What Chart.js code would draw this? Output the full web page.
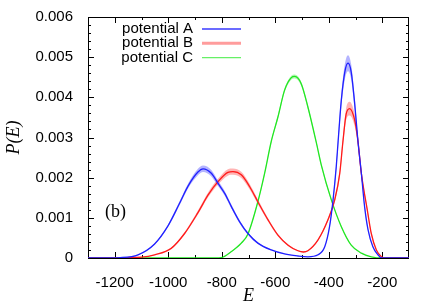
<!DOCTYPE html>
<html>
<head>
<meta charset="utf-8">
<script src="https://cdn.jsdelivr.net/npm/chart.js@4.4.1/dist/chart.umd.min.js"></script>
<style>
  html, body { margin: 0; padding: 0; background: #fff; }
  #wrap { width: 436px; height: 305px; }
</style>
</head>
<body>
<div id="wrap"><canvas id="chart"></canvas></div>
<script>
// energies (x) and P(E) (y), with band half-widths
const energyA = [-1300, -1250, -1180, -1113, -1051, -1001, -960, -926, -889, -870, -839, -814, -789, -764, -733, -702, -665, -615, -565, -515, -478, -440, -415, -397, -384, -372, -365, -353, -340, -328, -316, -303, -291, -278, -266, -253, -235, -216, -203, -150, -100];
const probA = [0, 0, 0.00001, 0.00008, 0.00035, 0.0008, 0.00133, 0.00179, 0.00214, 0.00222, 0.00211, 0.00186, 0.00161, 0.00128, 0.0009, 0.00061, 0.00037, 0.0002, 0.0001, 0.00005, 0.00003, 0.00008, 0.00028, 0.00078, 0.00144, 0.00227, 0.0029, 0.00393, 0.00463, 0.00485, 0.00463, 0.00384, 0.00292, 0.0021, 0.00128, 0.0007, 0.00028, 0.00008, 0, 0, 0];
const errA = [0, 0, 0, 0.000005, 0.00002, 0.00003, 0.00005, 0.00006, 0.00008, 0.00008, 0.00008, 0.00007, 0.00006, 0.00005, 0.00004, 0.00003, 0.00002, 0.00001, 0.000005, 0, 0, 0.000005, 0.00001, 0.00003, 0.00006, 0.0001, 0.00013, 0.00016, 0.00019, 0.0002, 0.00019, 0.00016, 0.00012, 0.00009, 0.00006, 0.00003, 0.00001, 0.000005, 0, 0, 0];

const energyB = [-1300, -1200, -1100, -1051, -989, -939, -889, -851, -814, -777, -758, -727, -696, -665, -627, -590, -552, -515, -495, -478, -440, -403, -378, -359, -347, -335, -322, -303, -291, -278, -256, -241, -222, -203, -190, -150, -100];
const probB = [0, 0, 0.00002, 0.00008, 0.00024, 0.00061, 0.00113, 0.00157, 0.0019, 0.00213, 0.00215, 0.00207, 0.00178, 0.0014, 0.00095, 0.00057, 0.00032, 0.00018, 0.00015, 0.00018, 0.00045, 0.00095, 0.00144, 0.0021, 0.0029, 0.00358, 0.00372, 0.00343, 0.00292, 0.0021, 0.0012, 0.00061, 0.0002, 0.00003, 0, 0, 0];
const errB = [0, 0, 0, 0.000005, 0.00001, 0.00003, 0.00005, 0.00006, 0.00007, 0.00008, 0.00008, 0.00008, 0.00007, 0.00006, 0.00004, 0.00003, 0.00002, 0.00001, 0.00001, 0.00001, 0.00002, 0.00004, 0.00006, 0.00009, 0.00012, 0.00015, 0.00017, 0.00015, 0.00012, 0.00009, 0.00005, 0.00003, 0.00001, 0, 0, 0, 0];

const energyC = [-1300, -850, -802, -764, -727, -702, -665, -640, -615, -590, -565, -540, -527, -503, -478, -447, -428, -390, -353, -316, -278, -241, -200, -100];
const probC = [0, 0, 0.00001, 0.00016, 0.00037, 0.0006, 0.0014, 0.0021, 0.0029, 0.00351, 0.00418, 0.00449, 0.00452, 0.00434, 0.00376, 0.00289, 0.00232, 0.00144, 0.00078, 0.00032, 0.00012, 0.00003, 0, 0];
const errC = [0, 0, 0, 0.00001, 0.00002, 0.00002, 0.00003, 0.00004, 0.00004, 0.00005, 0.00005, 0.00005, 0.00005, 0.00005, 0.00005, 0.00004, 0.00004, 0.00003, 0.00002, 0.00001, 0.000005, 0, 0, 0];

const seriesNames = ['potential A', 'potential B', 'potential C'];
const energyTicks = [-1200, -1000, -800, -600, -400, -200];
const probTicks = [0, 0.001, 0.002, 0.003, 0.004, 0.005, 0.006];

const lineColors = ['#2020ff', '#ff1a1a', '#22e622'];
const bandColors = ['rgba(40,40,255,0.35)', 'rgba(255,40,40,0.35)', 'rgba(40,230,40,0.35)'];
const legendColors = ['#3a3aff', '#ff9c9c', '#66f066'];
const legendWidths = [1.3, 3, 1.3];

function points(xs, ys, es, sign) {
  return xs.map((x, i) => ({ x: x, y: ys[i] + sign * (es ? es[i] : 0) }));
}

const series = [[energyA, probA, errA], [energyB, probB, errB], [energyC, probC, errC]];
const datasets = [];
series.forEach((s, k) => {
  datasets.push({
    label: seriesNames[k],
    data: points(s[0], s[1], null, 0),
    borderColor: lineColors[k],
    borderWidth: 1.3,
    pointRadius: 0,
    fill: false,
    cubicInterpolationMode: 'monotone',
    order: 0
  });
});
series.forEach((s, k) => {
  datasets.push({
    label: seriesNames[k] + ' upper',
    data: points(s[0], s[1], s[2], 1),
    borderWidth: 0,
    pointRadius: 0,
    backgroundColor: bandColors[k],
    fill: '+1',
    cubicInterpolationMode: 'monotone',
    order: 1
  });
  datasets.push({
    label: seriesNames[k] + ' lower',
    data: points(s[0], s[1], s[2], -1),
    borderWidth: 0,
    pointRadius: 0,
    fill: false,
    cubicInterpolationMode: 'monotone',
    order: 1
  });
});

const sansFont = '"Liberation Sans", Arial, sans-serif';

const framePlugin = {
  id: 'frame',
  beforeDatasetsDraw(chart) {
    const { ctx, chartArea: a, scales } = chart;
    ctx.save();
    ctx.strokeStyle = '#000';
    ctx.lineWidth = 1;
    ctx.strokeRect(a.left + 0.5, a.top + 0.5, a.right - a.left - 1, a.bottom - a.top);
    ctx.beginPath();
    // x ticks every 100, majors every 200
    for (let v = -1200; v <= -200; v += 100) {
      const px = Math.round(scales.x.getPixelForValue(v)) + 0.5;
      const len = v % 200 === 0 ? 6 : 3;
      ctx.moveTo(px, a.bottom); ctx.lineTo(px, a.bottom - len);
      ctx.moveTo(px, a.top); ctx.lineTo(px, a.top + len);
    }
    for (let i = 1; i < 30; i++) {
      const v = i * 0.0002;
      const py = Math.round(scales.y.getPixelForValue(v)) + 0.5;
      const len = i % 5 === 0 ? 6 : 3;
      ctx.moveTo(a.left, py); ctx.lineTo(a.left + len, py);
      ctx.moveTo(a.right, py); ctx.lineTo(a.right - len, py);
    }
    ctx.stroke();
    ctx.restore();
  },
  afterDraw(chart) {
    const { ctx, chartArea: a } = chart;
    ctx.save();
    // legend
    ctx.font = '15px ' + sansFont;
    ctx.fillStyle = '#000';
    ctx.textAlign = 'right';
    ctx.textBaseline = 'middle';
    seriesNames.forEach((name, k) => {
      const y = a.top + 12 + k * 14.3;
      ctx.fillText(name, a.left + 105, y);
      ctx.strokeStyle = legendColors[k];
      ctx.lineWidth = legendWidths[k];
      ctx.beginPath();
      ctx.moveTo(a.left + 114, y);
      ctx.lineTo(a.left + 153, y);
      ctx.stroke();
    });
    // panel tag and axis titles
    ctx.font = '18px "Liberation Serif", "Times New Roman", serif';
    ctx.textAlign = 'left';
    ctx.fillText('(b)', a.left + 17, 212);
    ctx.font = 'italic 18px "Liberation Serif", "Times New Roman", serif';
    ctx.textAlign = 'center';
    ctx.textBaseline = 'alphabetic';
    ctx.fillText('E', (a.left + a.right) / 2, 301);
    ctx.translate(19, (a.top + a.bottom) / 2);
    ctx.rotate(-Math.PI / 2);
    ctx.fillText('P(E)', 0, 0);
    ctx.restore();
  }
};

new Chart(document.getElementById('chart'), {
  type: 'line',
  data: { datasets: datasets },
  options: {
    responsive: true,
    maintainAspectRatio: false,
    animation: false,
    layout: { padding: { top: 17, right: 27, left: 0, bottom: 0 } },
    plugins: { legend: { display: false }, tooltip: { enabled: false } },
    scales: {
      x: {
        type: 'linear',
        min: -1300,
        max: -100,
        afterBuildTicks: scale => { scale.ticks = energyTicks.map(v => ({ value: v })); },
        afterFit: scale => { scale.height = 47; },
        grid: { display: false },
        border: { display: false },
        ticks: {
          color: '#000',
          padding: 8,
          maxRotation: 0,
          callback: v => String(v),
          font: { family: sansFont, size: 15 }
        }
      },
      y: {
        min: 0,
        max: 0.006,
        afterBuildTicks: scale => { scale.ticks = probTicks.map(v => ({ value: v })); },
        afterFit: scale => { scale.width = 88; },
        grid: { display: false },
        border: { display: false },
        ticks: {
          color: '#000',
          padding: 7,
          callback: v => String(v),
          font: { family: sansFont, size: 15 }
        }
      }
    }
  },
  plugins: [framePlugin]
});
</script>
</body>
</html>
